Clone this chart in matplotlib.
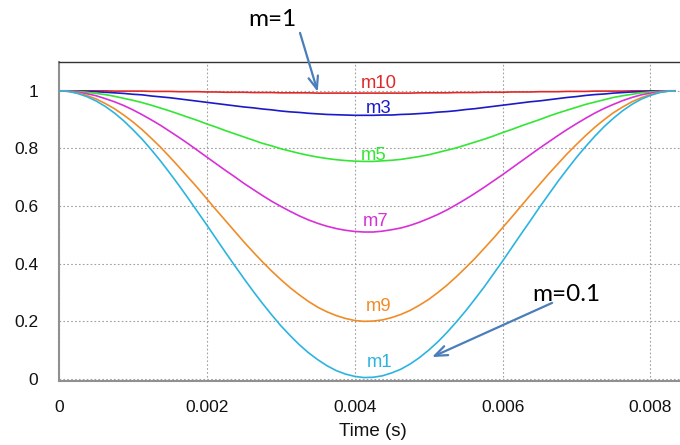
import matplotlib
matplotlib.use('Agg')
import matplotlib.pyplot as plt

# sample times (s) over one period
t = [0.0, 0.000125, 0.00025, 0.000375, 0.0005, 0.000625, 0.00075, 0.000875, 0.001, 0.001125,
     0.00125, 0.001375, 0.0015, 0.001625, 0.00175, 0.001875, 0.002, 0.002125, 0.00225, 0.002375,
     0.0025, 0.002625, 0.00275, 0.002875, 0.003, 0.003125, 0.00325, 0.003375, 0.0035, 0.003625,
     0.00375, 0.003875, 0.004, 0.004125, 0.00425, 0.004375, 0.0045, 0.004625, 0.00475, 0.004875,
     0.005, 0.005125, 0.00525, 0.005375, 0.0055, 0.005625, 0.00575, 0.005875, 0.006, 0.006125,
     0.00625, 0.006375, 0.0065, 0.006625, 0.00675, 0.006875, 0.007, 0.007125, 0.00725, 0.007375,
     0.0075, 0.007625, 0.00775, 0.007875, 0.008, 0.008125, 0.00825, 0.00833]

m10 = [1.000, 1.000, 1.000, 1.000, 1.000, 1.000, 0.999, 0.999, 0.999, 0.999,
       0.998, 0.998, 0.998, 0.997, 0.997, 0.997, 0.996, 0.996, 0.995, 0.995,
       0.995, 0.994, 0.994, 0.994, 0.993, 0.993, 0.993, 0.993, 0.992, 0.992,
       0.992, 0.992, 0.992, 0.992, 0.992, 0.992, 0.992, 0.992, 0.992, 0.993,
       0.993, 0.993, 0.993, 0.994, 0.994, 0.994, 0.995, 0.995, 0.995, 0.996,
       0.996, 0.996, 0.997, 0.997, 0.997, 0.998, 0.998, 0.998, 0.999, 0.999,
       0.999, 0.999, 1.000, 1.000, 1.000, 1.000, 1.000, 1.000]
m3 = [1.000, 1.000, 0.999, 0.998, 0.997, 0.995, 0.993, 0.991, 0.988, 0.986,
      0.982, 0.979, 0.976, 0.972, 0.968, 0.964, 0.960, 0.956, 0.952, 0.948,
      0.944, 0.941, 0.937, 0.934, 0.930, 0.927, 0.925, 0.922, 0.920, 0.918,
      0.917, 0.916, 0.915, 0.915, 0.915, 0.916, 0.916, 0.918, 0.919, 0.921,
      0.923, 0.926, 0.928, 0.931, 0.935, 0.938, 0.942, 0.946, 0.950, 0.954,
      0.958, 0.962, 0.965, 0.969, 0.973, 0.977, 0.980, 0.984, 0.987, 0.989,
      0.992, 0.994, 0.996, 0.997, 0.999, 0.999, 1.000, 1.000]
m5 = [1.000, 0.999, 0.998, 0.995, 0.991, 0.987, 0.981, 0.974, 0.967, 0.959,
      0.950, 0.940, 0.930, 0.919, 0.908, 0.897, 0.885, 0.874, 0.862, 0.851,
      0.840, 0.829, 0.818, 0.809, 0.799, 0.791, 0.783, 0.776, 0.770, 0.765,
      0.761, 0.758, 0.756, 0.755, 0.755, 0.757, 0.759, 0.762, 0.767, 0.772,
      0.778, 0.786, 0.794, 0.802, 0.812, 0.822, 0.832, 0.843, 0.855, 0.866,
      0.878, 0.889, 0.900, 0.912, 0.923, 0.933, 0.943, 0.953, 0.961, 0.969,
      0.977, 0.983, 0.988, 0.993, 0.996, 0.998, 1.000, 1.000]
m7 = [1.000, 0.999, 0.996, 0.990, 0.983, 0.973, 0.962, 0.949, 0.934, 0.917,
      0.899, 0.880, 0.859, 0.838, 0.816, 0.793, 0.770, 0.747, 0.724, 0.702,
      0.679, 0.658, 0.637, 0.617, 0.599, 0.582, 0.566, 0.552, 0.540, 0.530,
      0.522, 0.516, 0.512, 0.510, 0.510, 0.513, 0.518, 0.524, 0.533, 0.544,
      0.557, 0.571, 0.587, 0.605, 0.624, 0.644, 0.665, 0.687, 0.709, 0.732,
      0.755, 0.778, 0.801, 0.823, 0.845, 0.866, 0.886, 0.905, 0.923, 0.939,
      0.953, 0.966, 0.977, 0.986, 0.992, 0.997, 1.000, 1.000]
m9 = [1.000, 0.998, 0.993, 0.984, 0.972, 0.956, 0.938, 0.916, 0.892, 0.865,
      0.835, 0.804, 0.770, 0.735, 0.699, 0.663, 0.625, 0.587, 0.550, 0.513,
      0.476, 0.441, 0.407, 0.375, 0.345, 0.317, 0.292, 0.269, 0.249, 0.233,
      0.220, 0.210, 0.203, 0.200, 0.201, 0.205, 0.213, 0.224, 0.238, 0.256,
      0.276, 0.300, 0.326, 0.355, 0.386, 0.418, 0.453, 0.488, 0.525, 0.562,
      0.600, 0.638, 0.675, 0.712, 0.747, 0.782, 0.814, 0.845, 0.874, 0.900,
      0.924, 0.944, 0.962, 0.976, 0.987, 0.995, 0.999, 1.000]
m1 = [1.000, 0.998, 0.991, 0.980, 0.965, 0.946, 0.923, 0.896, 0.865, 0.832,
      0.795, 0.756, 0.714, 0.671, 0.626, 0.580, 0.534, 0.487, 0.440, 0.394,
      0.349, 0.305, 0.263, 0.223, 0.185, 0.151, 0.119, 0.091, 0.067, 0.046,
      0.029, 0.017, 0.009, 0.005, 0.006, 0.011, 0.021, 0.034, 0.052, 0.074,
      0.100, 0.129, 0.162, 0.198, 0.236, 0.277, 0.319, 0.364, 0.409, 0.456,
      0.503, 0.549, 0.596, 0.641, 0.686, 0.728, 0.769, 0.807, 0.843, 0.876,
      0.905, 0.931, 0.953, 0.971, 0.984, 0.994, 0.999, 1.000]

names = ["m10", "m3", "m5", "m7", "m9", "m1"]
curves = [m10, m3, m5, m7, m9, m1]
colors = ["#e02828", "#1a1ac8", "#33e633", "#d830d8", "#f08c28", "#2cb4e0"]
# label anchors: left edge time, baseline value
label_t = [0.004085, 0.004153, 0.004085, 0.004112, 0.004153, 0.004166]
label_y = [1.010, 0.924, 0.760, 0.531, 0.236, 0.042]

xticks = [0, 0.002, 0.004, 0.006, 0.008]
xticklabels = ["0", "0.002", "0.004", "0.006", "0.008"]
yticks = [0, 0.2, 0.4, 0.6, 0.8, 1]
yticklabels = ["0", "0.2", "0.4", "0.6", "0.8", "1"]

plt.rcParams['font.family'] = ['Liberation Sans', 'DejaVu Sans']

fig = plt.figure(figsize=(6.8, 4.45), dpi=100)
ax = fig.add_axes([59 / 680., 1 - 381 / 445., 1 - 59 / 680., (381 - 62) / 445.])

for name, vals, color, lx, ly in zip(names, curves, colors, label_t, label_y):
    ax.plot(t, vals, color=color, lw=1.2, zorder=3)
    ax.text(lx, ly, name, color=color, fontsize=13.3, ha='left', va='baseline')

ax.set_xlim(0, 0.0084)
ax.set_ylim(-0.007, 1.1)
ax.set_xticks(xticks)
ax.set_xticklabels(xticklabels)
ax.set_yticks(yticks)
ax.set_yticklabels(yticklabels)
ax.tick_params(length=0, labelsize=12.5, colors='#111111')
ax.tick_params(axis='x', pad=14)
ax.tick_params(axis='y', pad=15)
ax.grid(True, color='#a0a0a0', linestyle=(0, (1.5, 2)), lw=0.8)
fig.text(373 / 680., 1 - 432 / 445., 'Time (s)', fontsize=13.5,
         ha='center', va='center', color='#111111')

for side in ['left', 'bottom']:
    ax.spines[side].set_color('#909090')
    ax.spines[side].set_linewidth(1.5)
ax.spines['top'].set_color('#333333')
ax.spines['top'].set_linewidth(1.0)
ax.spines['right'].set_visible(False)

# callouts
arrow = dict(arrowstyle='->,head_length=0.9,head_width=0.35', color='#4a7ebb',
             lw=1.6, shrinkA=0, shrinkB=0)
ax.annotate('', xy=(0.0035, 0.9965), xytext=(0.00326, 1.201),
            annotation_clip=False, arrowprops=arrow)
ax.text(0.00288, 1.246, 'm=1', fontsize=17.5, family=['Lato', 'DejaVu Sans'],
        ha='center', va='center', clip_on=False)
ax.annotate('', xy=(0.005045, 0.076), xytext=(0.00667, 0.264), arrowprops=arrow)
ax.text(0.00686, 0.292, 'm=0.1', fontsize=17.5, family=['Lato', 'DejaVu Sans'],
        ha='center', va='center')

fig.savefig('out.png')
